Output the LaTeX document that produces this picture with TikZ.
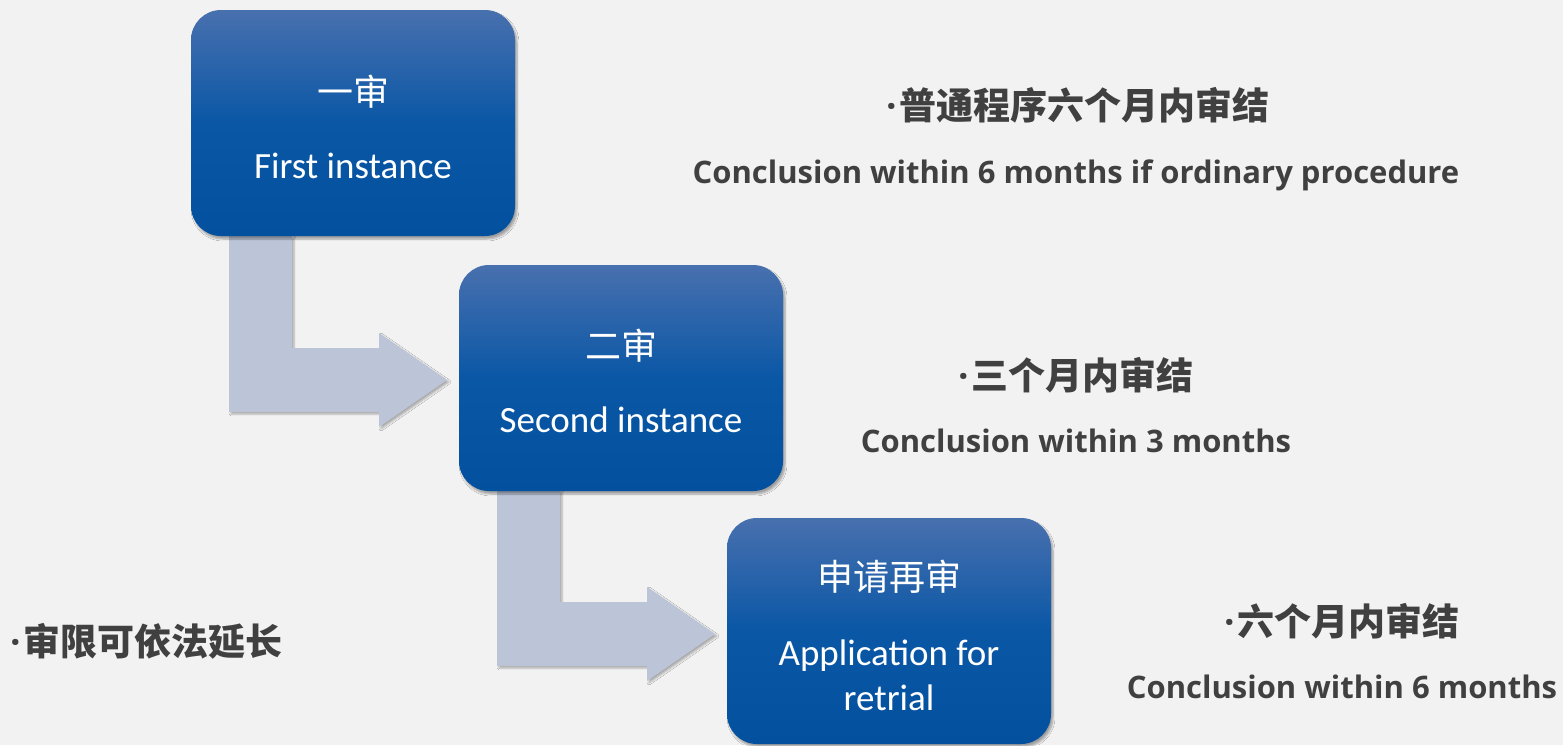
\documentclass[tikz,border=0pt]{standalone}
\usepackage{fontspec}
\setmainfont{Carlito}
\newfontfamily\cjk{Noto Sans CJK SC}
\newfontfamily\osb{Open Sans}
\usetikzlibrary{shadows.blur}
\definecolor{bg}{HTML}{F2F2F2}
\definecolor{boxtop}{HTML}{4870AE}
\definecolor{boxmid}{HTML}{0A57A6}
\definecolor{boxbot}{HTML}{02509E}
\definecolor{arr}{HTML}{BCC5D8}
\definecolor{txt}{HTML}{404040}
\newcommand{\dotc}{{\osb\bfseries ·}\hspace{3pt}}
\tikzset{
  box/.style={rounded corners=30pt, minimum width=324pt, minimum height=226pt,
    top color=boxtop, bottom color=boxbot, middle color=boxmid,
    blur shadow={shadow blur steps=6, shadow xshift=2pt, shadow yshift=-3pt, shadow opacity=35},
    inner sep=0pt},
  boxtext/.style={text=white, align=center, font=\fontsize{37}{45}\selectfont},
  boxcn/.style={text=white, font=\cjk\fontsize{36}{40}\selectfont},
  bent/.style={fill=arr, draw=none,
    blur shadow={shadow blur steps=4, shadow xshift=2pt, shadow yshift=-2pt, shadow opacity=30}},
  cn/.style={text=txt, font=\cjk\bfseries\fontsize{37}{42}\selectfont},
  en/.style={text=txt, font=\osb\bfseries\fontsize{31}{36}\selectfont},
}
\begin{document}
\begin{tikzpicture}[x=1pt,y=-1pt]
\fill[bg] (0,0) rectangle (1563,745);
\useasboundingbox (0,0) rectangle (1563,745);
% bent arrows
\path[bent] (229,236) -- (292,236) -- (292,348) -- (379,348) -- (379,333) -- (447,380)
  -- (379,427) -- (379,412) -- (229,412) -- cycle;
\path[bent] (497,490) -- (560,490) -- (560,602) -- (647,602) -- (647,587) -- (715,634)
  -- (647,681) -- (647,666) -- (497,666) -- cycle;
% boxes
\node[box] (b1) at (353,123) {};
\node[box] (b2) at (621,378) {};
\node[box] (b3) at (889,631) {};
\node[boxcn] (t1a) at (353,92) {一审};
\node[boxtext] (t1b) at (353,166) {First instance};
\node[boxcn] (t2a) at (621,346) {二审};
\node[boxtext] (t2b) at (621,420) {Second instance};
\node[boxcn] (t3a) at (889,577) {申请再审};
\node[boxtext] (t3b) at (889,675) {Application for\\retrial};
% right texts
\node[cn] (c1) at (1078,105) {\dotc 普通程序六个月内审结};
\node[en] (e1) at (1076,175) {Conclusion within 6 months if ordinary procedure};
\node[cn] (c2) at (1076,375) {\dotc 三个月内审结};
\node[en] (e2) at (1076,441) {Conclusion within 3 months};
\node[cn] (c3) at (1342,621) {\dotc 六个月内审结};
\node[en] (e3) at (1342,687) {Conclusion within 6 months};
\node[cn, anchor=west, inner sep=0pt] (c4) at (10,641) {\dotc 审限可依法延长};
\end{tikzpicture}
\end{document}
